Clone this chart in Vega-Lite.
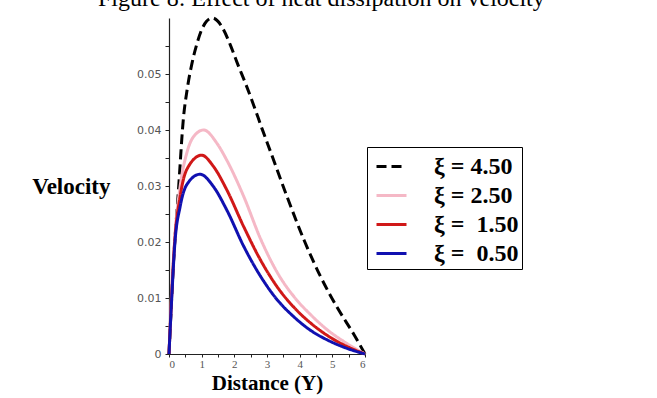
{
  "$schema": "https://vega.github.io/schema/vega-lite/v6.json",
  "autosize": {"type": "none"},
  "width": 196,
  "height": 336,
  "padding": {"left": 169, "top": 18, "right": 292, "bottom": 44},
  "background": "white",
  "title": {
    "text": "Figure 8: Effect of heat dissipation on velocity",
    "font": "Liberation Serif",
    "fontSize": 24,
    "fontWeight": "normal",
    "color": "#000000",
    "anchor": "start",
    "frame": "group",
    "dx": -71,
    "dy": 18,
    "offset": 0,
    "baseline": "alphabetic"
  },
  "config": {
    "view": {"stroke": null},
    "axis": {"grid": false}
  },
  "data": {
    "values": [
      {"Y": 0, "V": 0, "xi": "ξ = 4.50"},
      {"Y": 0.03, "V": 0.0037, "xi": "ξ = 4.50"},
      {"Y": 0.13, "V": 0.0156, "xi": "ξ = 4.50"},
      {"Y": 0.29, "V": 0.0293, "xi": "ξ = 4.50"},
      {"Y": 0.44, "V": 0.042, "xi": "ξ = 4.50"},
      {"Y": 0.56, "V": 0.0474, "xi": "ξ = 4.50"},
      {"Y": 0.7, "V": 0.0518, "xi": "ξ = 4.50"},
      {"Y": 0.85, "V": 0.0553, "xi": "ξ = 4.50"},
      {"Y": 1.0, "V": 0.0579, "xi": "ξ = 4.50"},
      {"Y": 1.15, "V": 0.0594, "xi": "ξ = 4.50"},
      {"Y": 1.33, "V": 0.06, "xi": "ξ = 4.50"},
      {"Y": 1.5, "V": 0.0594, "xi": "ξ = 4.50"},
      {"Y": 1.66, "V": 0.0580, "xi": "ξ = 4.50"},
      {"Y": 1.87, "V": 0.0553, "xi": "ξ = 4.50"},
      {"Y": 2.1, "V": 0.0518, "xi": "ξ = 4.50"},
      {"Y": 2.35, "V": 0.0482, "xi": "ξ = 4.50"},
      {"Y": 2.6, "V": 0.0443, "xi": "ξ = 4.50"},
      {"Y": 2.85, "V": 0.0402, "xi": "ξ = 4.50"},
      {"Y": 3.11, "V": 0.0361, "xi": "ξ = 4.50"},
      {"Y": 3.62, "V": 0.0280, "xi": "ξ = 4.50"},
      {"Y": 4.13, "V": 0.0204, "xi": "ξ = 4.50"},
      {"Y": 4.65, "V": 0.0137, "xi": "ξ = 4.50"},
      {"Y": 5.16, "V": 0.0082, "xi": "ξ = 4.50"},
      {"Y": 5.67, "V": 0.0034, "xi": "ξ = 4.50"},
      {"Y": 6, "V": 0, "xi": "ξ = 4.50"},

      {"Y": 0, "V": 0, "xi": "ξ = 2.50"},
      {"Y": 0.08, "V": 0.011, "xi": "ξ = 2.50"},
      {"Y": 0.18, "V": 0.021, "xi": "ξ = 2.50"},
      {"Y": 0.34, "V": 0.0299, "xi": "ξ = 2.50"},
      {"Y": 0.54, "V": 0.0358, "xi": "ξ = 2.50"},
      {"Y": 0.75, "V": 0.0388, "xi": "ξ = 2.50"},
      {"Y": 1.06, "V": 0.04, "xi": "ξ = 2.50"},
      {"Y": 1.47, "V": 0.0376, "xi": "ξ = 2.50"},
      {"Y": 1.77, "V": 0.0346, "xi": "ξ = 2.50"},
      {"Y": 2.29, "V": 0.0281, "xi": "ξ = 2.50"},
      {"Y": 2.8, "V": 0.0206, "xi": "ξ = 2.50"},
      {"Y": 3.31, "V": 0.0146, "xi": "ξ = 2.50"},
      {"Y": 3.83, "V": 0.0102, "xi": "ξ = 2.50"},
      {"Y": 4.34, "V": 0.007, "xi": "ξ = 2.50"},
      {"Y": 4.85, "V": 0.0043, "xi": "ξ = 2.50"},
      {"Y": 5.36, "V": 0.0022, "xi": "ξ = 2.50"},
      {"Y": 6, "V": 0, "xi": "ξ = 2.50"},

      {"Y": 0, "V": 0, "xi": "ξ =  1.50"},
      {"Y": 0.08, "V": 0.0102, "xi": "ξ =  1.50"},
      {"Y": 0.18, "V": 0.0205, "xi": "ξ =  1.50"},
      {"Y": 0.34, "V": 0.0281, "xi": "ξ =  1.50"},
      {"Y": 0.54, "V": 0.0329, "xi": "ξ =  1.50"},
      {"Y": 1.0, "V": 0.0355, "xi": "ξ =  1.50"},
      {"Y": 1.36, "V": 0.0335, "xi": "ξ =  1.50"},
      {"Y": 1.77, "V": 0.0293, "xi": "ξ =  1.50"},
      {"Y": 2.29, "V": 0.0227, "xi": "ξ =  1.50"},
      {"Y": 2.8, "V": 0.0168, "xi": "ξ =  1.50"},
      {"Y": 3.31, "V": 0.012, "xi": "ξ =  1.50"},
      {"Y": 3.83, "V": 0.0083, "xi": "ξ =  1.50"},
      {"Y": 4.34, "V": 0.0055, "xi": "ξ =  1.50"},
      {"Y": 4.85, "V": 0.0033, "xi": "ξ =  1.50"},
      {"Y": 5.36, "V": 0.0016, "xi": "ξ =  1.50"},
      {"Y": 6, "V": 0, "xi": "ξ =  1.50"},

      {"Y": 0, "V": 0, "xi": "ξ =  0.50"},
      {"Y": 0.08, "V": 0.0096, "xi": "ξ =  0.50"},
      {"Y": 0.18, "V": 0.0198, "xi": "ξ =  0.50"},
      {"Y": 0.34, "V": 0.0263, "xi": "ξ =  0.50"},
      {"Y": 0.54, "V": 0.0302, "xi": "ξ =  0.50"},
      {"Y": 0.95, "V": 0.0321, "xi": "ξ =  0.50"},
      {"Y": 1.36, "V": 0.0299, "xi": "ξ =  0.50"},
      {"Y": 1.77, "V": 0.0257, "xi": "ξ =  0.50"},
      {"Y": 2.29, "V": 0.0192, "xi": "ξ =  0.50"},
      {"Y": 2.8, "V": 0.0139, "xi": "ξ =  0.50"},
      {"Y": 3.31, "V": 0.0097, "xi": "ξ =  0.50"},
      {"Y": 3.83, "V": 0.0066, "xi": "ξ =  0.50"},
      {"Y": 4.34, "V": 0.0042, "xi": "ξ =  0.50"},
      {"Y": 4.85, "V": 0.0025, "xi": "ξ =  0.50"},
      {"Y": 5.36, "V": 0.0012, "xi": "ξ =  0.50"},
      {"Y": 6, "V": 0, "xi": "ξ =  0.50"}
    ]
  },
  "mark": {"type": "line", "interpolate": "monotone", "strokeWidth": 3, "clip": false},
  "encoding": {
    "x": {
      "field": "Y",
      "type": "quantitative",
      "scale": {"domain": [0, 6], "nice": false},
      "axis": {
        "values": [0, 0.5, 1, 1.5, 2, 2.5, 3, 3.5, 4, 4.5, 5, 5.5, 6],
        "labelExpr": "datum.value % 1 === 0 ? format(datum.value, 'd') : ''",
        "title": "Distance (Y)",
        "titleFont": "Liberation Serif",
        "titleFontSize": 21,
        "titleFontWeight": "bold",
        "titleColor": "#000000",
        "titlePadding": 3,
        "labelFont": "Liberation Serif",
        "labelFontSize": 11,
        "labelColor": "#555555",
        "labelPadding": 1,
        "tickSize": 3,
        "tickColor": "#222222",
        "domainColor": "#222222",
        "domainWidth": 1.2
      }
    },
    "y": {
      "field": "V",
      "type": "quantitative",
      "scale": {"domain": [0, 0.06], "nice": false},
      "axis": {
        "values": [0, 0.005, 0.01, 0.015, 0.02, 0.025, 0.03, 0.035, 0.04, 0.045, 0.05, 0.055],
        "labelExpr": "datum.value === 0 ? '0' : (abs(datum.value * 100 - round(datum.value * 100)) < 0.001 ? format(datum.value, '.2f') : '')",
        "title": "Velocity",
        "titleAngle": 0,
        "titleAlign": "right",
        "titleBaseline": "middle",
        "titleX": -59,
        "titleY": 168,
        "titleFont": "Liberation Serif",
        "titleFontSize": 23,
        "titleFontWeight": "bold",
        "titleColor": "#000000",
        "labelFont": "DejaVu Sans",
        "labelFontSize": 11,
        "labelColor": "#555555",
        "labelPadding": 4,
        "tickSize": 4,
        "tickColor": "#222222",
        "domainColor": "#222222",
        "domainWidth": 1.2
      }
    },
    "color": {
      "field": "xi",
      "type": "nominal",
      "scale": {
        "domain": ["ξ = 4.50", "ξ = 2.50", "ξ =  1.50", "ξ =  0.50"],
        "range": ["#000000", "#f5b8c6", "#d01818", "#1010b0"]
      },
      "legend": {
        "title": null,
        "orient": "none",
        "legendX": 198,
        "legendY": 129,
        "strokeColor": "#000000",
        "padding": 3,
        "symbolType": "stroke",
        "symbolSize": 900,
        "symbolStrokeWidth": 3,
        "symbolOffset": 5,
        "rowPadding": -4,
        "labelFont": "Liberation Serif",
        "labelFontSize": 24,
        "labelFontWeight": "bold",
        "labelColor": "#000000",
        "labelOffset": 26,
        "labelLimit": 200,
        "labelExpr": "replace(datum.label, '=  ', '=\u00a0\u00a0')"
      }
    },
    "strokeDash": {
      "field": "xi",
      "type": "nominal",
      "scale": {
        "domain": ["ξ = 4.50", "ξ = 2.50", "ξ =  1.50", "ξ =  0.50"],
        "range": [[10, 5], [1, 0], [1, 0], [1, 0]]
      },
      "legend": {
        "title": null,
        "orient": "none",
        "legendX": 198,
        "legendY": 129,
        "strokeColor": "#000000",
        "padding": 3,
        "symbolType": "stroke",
        "symbolSize": 900,
        "symbolStrokeWidth": 3,
        "symbolOffset": 5,
        "rowPadding": -4,
        "labelFont": "Liberation Serif",
        "labelFontSize": 24,
        "labelFontWeight": "bold",
        "labelColor": "#000000",
        "labelOffset": 26,
        "labelLimit": 200,
        "labelExpr": "replace(datum.label, '=  ', '=\u00a0\u00a0')"
      }
    }
  }
}
